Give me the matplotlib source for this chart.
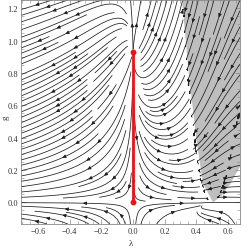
import numpy as np
import matplotlib
matplotlib.use("Agg")
import matplotlib.pyplot as plt

# ---- axis data ----
x_ticks = [-0.6, -0.4, -0.2, 0.0, 0.2, 0.4, 0.6]
y_ticks = [0.0, 0.2, 0.4, 0.6, 0.8, 1.0, 1.2]
x_range = [-0.707, 0.676]
y_range = [-0.134, 1.251]
x_label = "λ"
y_label = "g"

# ---- shaded region boundary ----
shade_left_lam = [0.506, 0.443, 0.400, 0.350, 0.310]
shade_left_g = [0.0, 0.113, 0.390, 0.820, 1.251]
shade_right_lam = [0.506, 0.560, 0.614, 0.676]
shade_right_g = [0.0, 0.040, 0.113, 0.220]

# ---- red segment ----
red_lam = [0.0, 0.0]
red_g = [0.0, 0.93]

# ---- flow model: fixed point on lambda = 0 ----
fp_g = red_g[1]

B2_0 = (12 - 10) / (24 * np.pi)
b1_scale = 2 * (1 - fp_g * B2_0) * 12 * np.pi / (44 * fp_g)

fig = plt.figure(figsize=(2.49, 2.53), dpi=100)
ax = fig.add_axes([21 / 249, 28 / 253, 219 / 249, 224 / 253])

lam = np.linspace(x_range[0], x_range[1], 260)
g = np.linspace(y_range[0], y_range[1], 260)
L, G = np.meshgrid(lam, g)
w = 1 - 2 * L
s = w ** 2
B1s = b1_scale * (20 * w - 36 - 28 * s) / (12 * np.pi)
B2s = (12 - 10 * w) / (24 * np.pi)
Ds = s - G * B2s
sg = np.sign(Ds)
sg[sg == 0] = 1
U = sg * L * (2 * Ds - G * B1s)
V = -sg * G * (2 * Ds + G * B1s)
sp = np.hypot(U, V)
sp[sp == 0] = 1
U = U / sp
V = V / sp

# shaded region: left branch top->bottom, right branch bottom->top, top-right corner
poly_lam = list(shade_left_lam[::-1]) + list(shade_right_lam) + [x_range[1]]
poly_g = list(shade_left_g[::-1]) + list(shade_right_g) + [y_range[1]]
ax.fill(poly_lam, poly_g, color="#bebebe", lw=0, zorder=1)

kw = dict(density=1.45, color="#1e1e1e", linewidth=0.55, arrowsize=0.5,
          arrowstyle="-|>", zorder=2, minlength=0.12)
try:
    ax.streamplot(lam, g, U, V, num_arrows=2, **kw)
except TypeError:
    ax.streamplot(lam, g, U, V, **kw)

ax.plot(red_lam, red_g, color="#e8141a", lw=2.0, zorder=4, solid_capstyle="butt")
ax.plot(red_lam, red_g, "o", color="#e8141a", ms=3.2, zorder=5)

ax.set_xlim(x_range)
ax.set_ylim(y_range)
ax.set_xticks(x_ticks)
ax.set_yticks(y_ticks)
ax.set_xticklabels([f"{t:.1f}".replace("-", "\u2212") for t in x_ticks])
ax.set_yticklabels([f"{t:.1f}" for t in y_ticks])
ax.set_xticks(np.arange(-0.7, 0.70, 0.05), minor=True)
ax.set_yticks(np.arange(-0.1, 1.26, 0.05), minor=True)
ax.tick_params(which="both", direction="in", top=True, right=True, colors="#888888",
               labelcolor="#333333", labelsize=6, pad=2)
ax.tick_params(which="major", length=3.5, width=0.5)
ax.tick_params(which="minor", length=2, width=0.4)
for lab in ax.get_xticklabels() + ax.get_yticklabels():
    lab.set_fontfamily("Liberation Serif")
for spn in ax.spines.values():
    spn.set_color("#888888")
    spn.set_linewidth(0.6)
ax.set_xlabel(x_label, fontsize=6.5, family="Liberation Serif", color="#333333", labelpad=3)
fig.text(6 / 249, 1 - 118 / 253, y_label, fontsize=6.5, family="Liberation Serif",
         color="#333333", rotation=90, ha="center", va="center")

fig.savefig("out.png", dpi=100)
